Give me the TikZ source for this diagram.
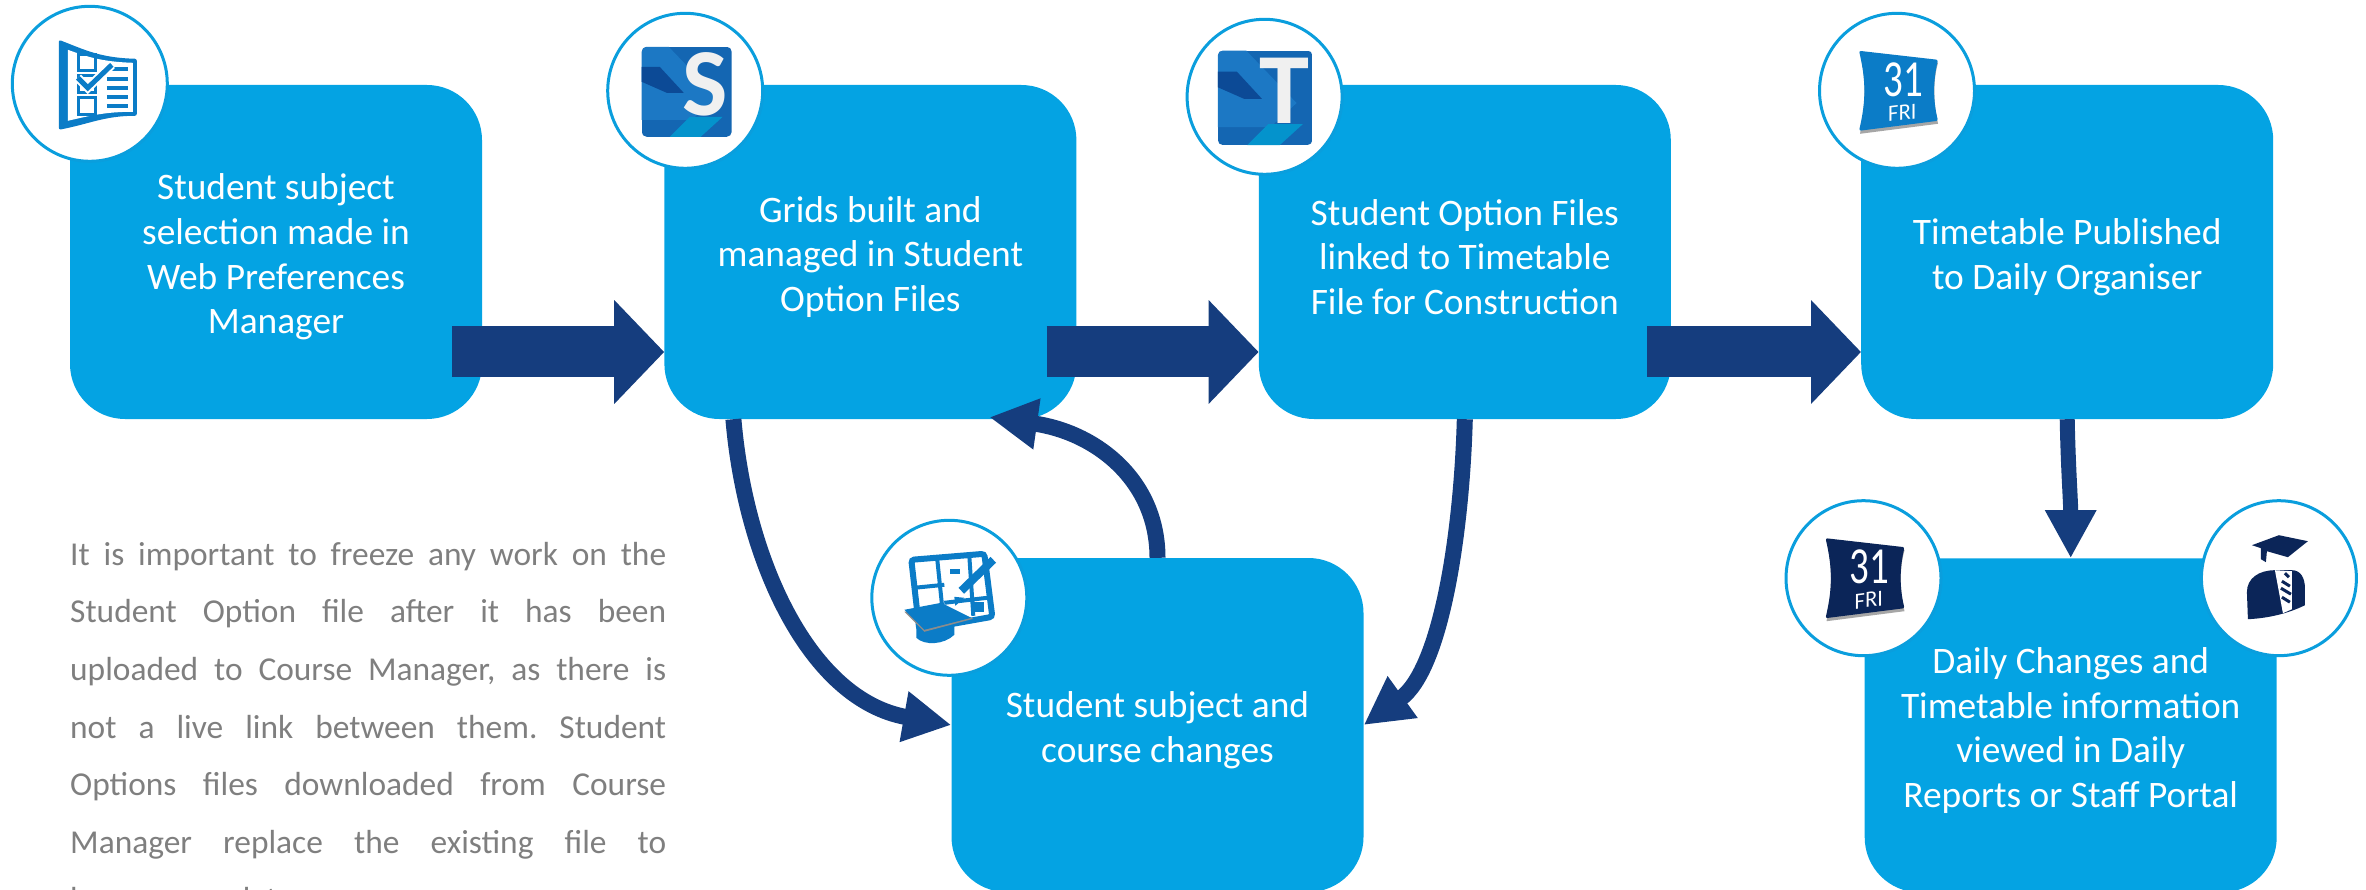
\documentclass[tikz,border=0pt]{standalone}
\usepackage{fontspec}
\setmainfont{Carlito}
\usepackage{xcolor}
\usepackage{tikz}
\usetikzlibrary{positioning}
\usetikzlibrary{arrows.meta}
\definecolor{boxblue}{HTML}{04A3E3}
\definecolor{arrownavy}{HTML}{153D7E}
\definecolor{ringblue}{HTML}{0A9EDD}
\definecolor{iconblue}{HTML}{0B7CC7}
\definecolor{iconnavy}{HTML}{0B2558}
\definecolor{notegrey}{HTML}{7F7F7F}
\definecolor{tilebase}{HTML}{1466B2}
\definecolor{tilelight}{HTML}{1C78C4}
\definecolor{tiledark}{HTML}{0C4A96}
\newcommand{\boxstrut}{\rule{0pt}{36pt}}
\tikzset{
	flowbox/.style={
			fill=boxblue,
			rounded corners=55pt,
			minimum width=412pt,
			minimum height=334pt,
			inner sep=0pt,
			align=center,
			text=white,
			font=\fontsize{37.4}{44.6}\selectfont
		},
	iconring/.style={
			draw=ringblue,
			fill=white,
			circle,
			line width=3pt,
			inner sep=0pt,
			minimum size=155pt
		},
	blockarrow/.style={
			arrownavy,
			line width=51pt,
			-{Triangle[length=50pt,width=101pt]}
		},
	curvearrow/.style={
			arrownavy,
			line width=16pt,
			-{Triangle[length=48pt,width=48pt]}
		},
	% Tile with a letter
	filetile/.pic={
			\begin{scope}
				\clip[rounded corners=5pt] (-45,-45) rectangle (45,45);
				\fill[tilebase] (-45,-45) rectangle (45,45);
				\fill[tilelight] (-45,45) -- (-18,45) -- (30,-5) -- (5,-28) -- (-45,-28) -- cycle;
				\fill[tiledark] (-45,25) -- (-27,25) -- (-3,-1) -- (-20,-1) -- (-45,10) -- cycle;
				\fill[boxblue!90!black] (-17,-45) -- (3,-25) -- (36,-25) -- (14,-45) -- cycle;
			\end{scope}
			\node[inner sep=0pt,text=black!6,transform shape,
				font=\fontsize{96}{96}\selectfont\bfseries] (letter) at (18,7) {#1};
		},
	% Calendar tile
	calendar/.pic={
			\fill[black!35] (-37,38) .. controls (-31,10) and (-31,-10) .. (-37,-43)
			-- (41,-33) .. controls (36,-10) and (36,10) .. (41,28) -- cycle;
			\fill[#1,rounded corners=2pt] (-38,40) .. controls (-31,10) and (-31,-10) .. (-38,-40)
			-- (41,-30) .. controls (36,-10) and (36,10) .. (41,31) -- cycle;
			\node[inner sep=0pt,text=white,transform shape,xscale=.75,
				font=\fontsize{52}{52}\selectfont] (day) at (6,11) {31};
			\node[inner sep=0pt,text=white,rotate=7,
				font=\fontsize{23}{23}\selectfont\itshape] (weekday) at (5,-22) {FRI};
		},
	% Checklist
	checklist/.pic={
			\fill[iconblue,rounded corners=2pt] (-31,44) .. controls (-5,34) and (10,26) .. (47,25)
			-- (47,-32) .. controls (15,-32) and (0,-40) .. (-31,-46) -- cycle;
			\fill[white] (-22,34) .. controls (-5,28) and (10,22) .. (43,21)
			-- (43,-28) .. controls (15,-28) and (0,-32) .. (-22,-37) -- cycle;
			\draw[iconblue,line width=3pt] (-11,29) rectangle (6,13)
			(-11,8) rectangle (6,-9)
			(-11,-14) rectangle (6,-31);
			\foreach \rowy in {15,5,-4,-13,-22}
				\draw[iconblue,line width=4pt] (17,\rowy) -- (38,\rowy);
			\draw[white,line width=9pt] (-12,6) -- (-2,-4) -- (22,19);
			\draw[iconblue,line width=5pt] (-12,6) -- (-2,-4) -- (22,19);
		},
	% Grid with pen and cap
	gridpen/.pic={
			\draw[iconblue,fill=white,line width=6pt,rounded corners=3pt] (-38,38) -- (35,44) -- (43,-19) -- (-30,-32) -- cycle;
			\draw[iconblue,line width=4pt] (-12,38) -- (-6,-20)
			(-35,10) -- (-5,13)
			(-5,-5) -- (38,0)
			(20,42) -- (24,-18);
			\fill[iconblue] (1,29) rectangle (11,24);
			\fill[iconblue] (23,-4) rectangle (35,-14);
			\draw[iconblue,line width=8pt] (44,38) -- (12,7);
			\fill[iconblue] (15,0) -- (5,1) -- (6,-8) -- cycle;
			\fill[iconblue] (-33,-25) -- (-33,-40) .. controls (-25,-48) and (-5,-47) .. (5,-37) -- (5,-27) -- cycle;
			\fill[black!45] (-45,-14) -- (-8,-7) -- (24,-21) -- (-25,-34) -- cycle;
			\fill[iconblue] (-45,-12) -- (-8,-5) -- (22,-20) -- (-25,-32) -- cycle;
		},
	% Student with cap and tie
	student/.pic={
			\fill[iconnavy] (-27,33) -- (0,43) -- (29,37) -- (9,21) -- (-12,27) -- (-13,16) -- (-18,19) -- (-18,30) -- cycle;
			\fill[iconnavy] (-31,-41) -- (-32,-14) .. controls (-32,0) and (-20,8) .. (-4,8)
			-- (13,8) .. controls (22,8) and (26,0) .. (26,-10) -- (26,-27) .. controls (10,-35) and (-10,-40) .. (-31,-41) -- cycle;
			\fill[white] (-4,8) -- (13,7) -- (13,-31) -- (4,-35) -- cycle;
			\draw[iconnavy,line width=3pt] (6,5) -- (10,1)
			(3,-3) -- (11,-8)
			(2,-10) -- (12,-16)
			(3,-19) -- (11,-24);
		}
}

\begin{document}
\begin{tikzpicture}[x=1pt,y=1pt]
	\useasboundingbox (0,0) rectangle (2366,-890);

	% Top row
	\node[flowbox] (subject) at (276,-252) {\boxstrut Student subject\\selection made in\\Web Preferences\\Manager};
	\node[flowbox,right=182pt of subject] (grids) {\boxstrut Grids built and\\managed in Student\\Option Files};
	\node[flowbox,right=182pt of grids] (linked) {\boxstrut Student Option Files\\linked to Timetable\\File for Construction};
	\node[flowbox,right=190pt of linked] (published) {\boxstrut Timetable Published\\to Daily Organiser};

	% Bottom row
	\node[flowbox] (changes) at (1157.5,-725) {\boxstrut Student subject and\\course changes};
	\node[flowbox,below=139pt of published,xshift=3.5pt] (daily) {\boxstrut Daily Changes and\\Timetable information\\viewed in Daily\\Reports or Staff Portal};

	% Note
	\node[anchor=north west,inner sep=0pt,text width=596pt,align=justify,text=notegrey,
		font=\fontsize{33.4}{57.6}\selectfont\frenchspacing] (note) at (70,-542)
	{It is important to freeze any work on the\linebreak
		Student Option file after it has been\linebreak
		uploaded to Course Manager, as there is\linebreak
		not a live link between them. Student\linebreak
		Options files downloaded from Course\linebreak
		Manager replace the existing file to\linebreak
		have any updates};

	% Arrows
	\draw[blockarrow] ([shift={(-30,-100)}]subject.east) -- ([yshift=-100pt]grids.west);
	\draw[blockarrow] ([shift={(-30,-100)}]grids.east) -- ([yshift=-100pt]linked.west);
	\draw[blockarrow] ([shift={(-24,-100)}]linked.east) -- ([yshift=-100pt]published.west);

	\draw[curvearrow] ([xshift=-137pt]grids.south) .. controls +(12,-141) and +(-142,25) .. (changes.west);
	\draw[curvearrow] (changes.north) .. controls +(0,78) and +(106,-15) .. ([xshift=119pt,yshift=2pt]grids.south);
	\draw[curvearrow] (linked.south) .. controls +(-3,-111) and +(78,56) .. (changes.east);
	\draw[curvearrow,line width=15pt] (published.south) .. controls +(1,-51) and +(0,58) .. (daily.north);

	% Icons
	\node[iconring] (ringa) at ([xshift=20pt,yshift=1pt]subject.north west) {};
	\node[iconring] (ringb) at ([xshift=21pt,yshift=-6pt]grids.north west) {};
	\node[iconring] (ringc) at ([xshift=6pt,yshift=-12pt]linked.north west) {};
	\node[iconring] (ringd) at ([xshift=36pt,yshift=-6pt]published.north west) {};
	\node[iconring] (ringe) at ([xshift=-2pt,yshift=-40pt]changes.north west) {};
	\node[iconring] (ringf) at ([xshift=-1pt,yshift=-20pt]daily.north west) {};
	\node[iconring] (ringg) at ([xshift=2pt,yshift=-20pt]daily.north east) {};

	\pic at (ringa.center) {checklist};
	\pic at ([shift={(1.5,-1)}]ringb.center) {filetile=S};
	\pic[scale=1.05] at ([shift={(.5,-1)}]ringc.center) {filetile=T};
	\pic at (ringd.center) {calendar=iconblue};
	\pic at (ringe.center) {gridpen};
	\pic at (ringf.center) {calendar=iconnavy};
	\pic at (ringg.center) {student};
\end{tikzpicture}
\end{document}
